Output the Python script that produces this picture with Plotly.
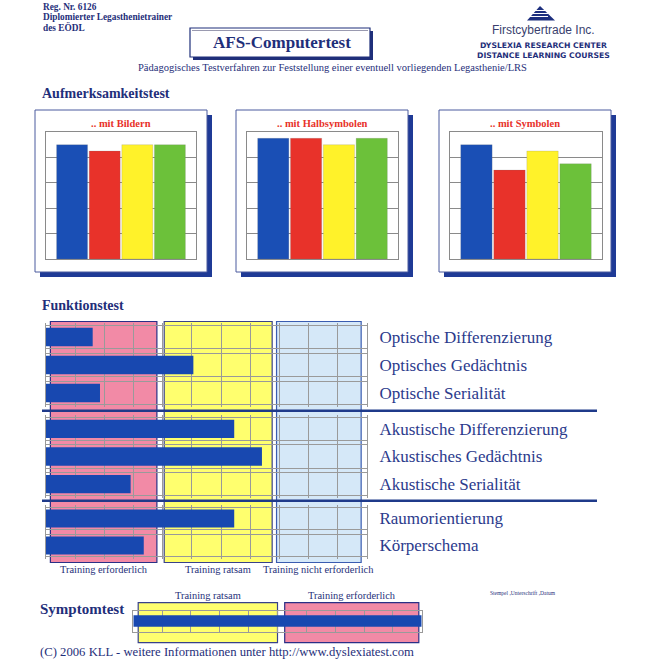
import plotly.graph_objects as go

W, H = 648, 672


def px(x):
    return x / W


def py(y):
    return 1 - y / H


# ---------------- data ----------------
AUF_TITLES = [".. mit Bildern", ".. mit Halbsymbolen", ".. mit Symbolen"]
AUF_CATS = ["blau", "rot", "gelb", "grün"]
AUF_BILDERN = [4.5, 4.25, 4.5, 4.5]
AUF_HALBSYMBOLE = [4.75, 4.75, 4.5, 4.75]
AUF_SYMBOLE = [4.5, 3.5, 4.25, 3.75]

FUNK_LABELS_1 = ["Optische Differenzierung", "Optisches Gedächtnis", "Optische Serialität"]
FUNK_VALUES_1 = [1.6, 5.05, 1.85]
FUNK_LABELS_2 = ["Akustische Differenzierung", "Akustisches Gedächtnis", "Akustische Serialität"]
FUNK_VALUES_2 = [6.45, 7.4, 2.9]
FUNK_LABELS_3 = ["Raumorientierung", "Körperschema"]
FUNK_VALUES_3 = [6.45, 3.35]

FUNK_ZONE_LABELS = ["Training erforderlich", "Training ratsam", "Training nicht erforderlich"]
FUNK_ZONE_START = [0.15, 4.05, 7.9]
FUNK_ZONE_END = [3.8, 7.75, 10.8]

SYMPTOM_LABELS = ["Symptomtest"]
SYMPTOM_VALUES = [10]
SYMPTOM_ZONE_LABELS = ["Training ratsam", "Training erforderlich"]
SYMPTOM_ZONE_START = [0.17, 5.25]
SYMPTOM_ZONE_END = [5.0, 9.9]

# ---------------- styles ----------------
NAVY = "#1f2f7a"
LABEL_BLUE = "#2b3a8c"
RED_TITLE = "#e8322a"
BAR_COLORS = ["#1a4fb5", "#e8322a", "#fff22a", "#6cc13a"]
FUNK_BAR = "#1848b0"
GRID = "#9a9a9a"
SERIF = "Liberation Serif"
SANS = "Liberation Sans"
SANS_W = "DejaVu Sans"
ZONE_FILL = {"Training erforderlich": "#f28aa6",
             "Training ratsam": "#ffff6e",
             "Training nicht erforderlich": "#d5e8f8"}
ZONE_LINE = {"Training erforderlich": "#2a2f86",
             "Training ratsam": "#39428a",
             "Training nicht erforderlich": "#3a5cb0"}

fig = go.Figure()
shapes = []
annotations = []


def ann(text, x, y, size, color=NAVY, family=SERIF, xanchor="left", xref="paper", yref="paper"):
    annotations.append(dict(text=text, x=x, y=y, xref=xref, yref=yref, showarrow=False,
                            xanchor=xanchor, yanchor="middle",
                            font=dict(size=size, color=color, family=family)))


# ---------------- header ----------------
ann("<b>Reg. Nr. 6126</b>", px(41), py(7), 9.3)
ann("<b>Diplomierter Legasthenietrainer</b>", px(41), py(17), 9.3)
ann("<b>des EÖDL</b>", px(41), py(27), 9.3)

shapes.append(dict(type="rect", xref="paper", yref="paper", layer="below",
                   x0=px(193), x1=px(373), y0=py(31), y1=py(60),
                   fillcolor=NAVY, line=dict(width=0)))
shapes.append(dict(type="rect", xref="paper", yref="paper", layer="below",
                   x0=px(190), x1=px(370), y0=py(28), y1=py(57),
                   fillcolor="white", line=dict(color=NAVY, width=1.2)))
shapes.append(dict(type="line", xref="paper", yref="paper", layer="below",
                   x0=px(192), x1=px(368), y0=py(30.5), y1=py(30.5),
                   line=dict(color="#9a9ab0", width=1)))
ann("<b>AFS-Computertest</b>", px(282), py(42.5), 17, xanchor="center")
ann("Pädagogisches Testverfahren zur Feststellung einer eventuell vorliegenden Legasthenie/LRS",
    px(332), py(68), 10.5, xanchor="center")

# logo triangle
shapes.append(dict(type="path", xref="paper", yref="paper", layer="above",
                   path=f"M {px(540)},{py(6)} L {px(555)},{py(20.5)} L {px(527)},{py(20.5)} Z",
                   fillcolor="#1d2f7e", line=dict(width=0)))
for yy in (10.5, 13.5, 16.5):
    shapes.append(dict(type="line", xref="paper", yref="paper", layer="above",
                       x0=px(526), x1=px(548), y0=py(yy), y1=py(yy),
                       line=dict(color="white", width=1)))
ann("Firstcybertrade Inc.", px(543), py(30), 12, color="#3a3f6e", family=SANS, xanchor="center")
ann("<b>DYSLEXIA RESEARCH CENTER</b>", px(543), py(46), 7.7, family=SANS_W, xanchor="center")
ann("<b>DISTANCE LEARNING COURSES</b>", px(543), py(55), 7.7, family=SANS_W, xanchor="center")

# ---------------- Aufmerksamkeitstest ----------------
ann("<b>Aufmerksamkeitstest</b>", px(40), py(94), 14)

auf_values = [AUF_BILDERN, AUF_HALBSYMBOLE, AUF_SYMBOLE]
frames = [(35, 207), (236, 408), (439, 611)]
plots = [(46, 196), (247, 398), (450, 602)]
for i, (vals, title) in enumerate(zip(auf_values, AUF_TITLES)):
    k = i + 1
    fx0, fx1 = frames[i]
    shapes.append(dict(type="rect", xref="paper", yref="paper", layer="below",
                       x0=px(fx0 + 5), x1=px(fx1 + 5), y0=py(115), y1=py(277),
                       fillcolor="#1f3a96", line=dict(width=0)))
    shapes.append(dict(type="rect", xref="paper", yref="paper", layer="below",
                       x0=px(fx0), x1=px(fx1), y0=py(110), y1=py(272),
                       fillcolor="white", line=dict(color="#4a5a9e", width=1)))
    ann(f"<b>{title}</b>", px((fx0 + fx1) / 2), py(123), 10.5, color=RED_TITLE, xanchor="center")
    fig.add_trace(go.Bar(x=AUF_CATS, y=vals, marker=dict(color=BAR_COLORS, line=dict(width=0.6, color="rgba(120,120,120,0.35)")),
                         width=0.95, xaxis=f"x{k}", yaxis=f"y{k}", showlegend=False, hoverinfo="y"))
    x0, x1 = plots[i]
    fig.layout[f"xaxis{k}"] = dict(domain=[px(x0), px(x1)], anchor=f"y{k}", range=[-0.8, 3.8],
                                   showticklabels=False, ticks="", showgrid=False, zeroline=False,
                                   showline=True, mirror=True, linecolor="#8a8a8a", linewidth=1,
                                   fixedrange=True)
    fig.layout[f"yaxis{k}"] = dict(domain=[py(259), py(132)], anchor=f"x{k}", range=[0, 5], dtick=1,
                                   showticklabels=False, ticks="", showgrid=True, gridcolor="#8a8a8a",
                                   gridwidth=1, zeroline=False, showline=True, mirror=True,
                                   linecolor="#8a8a8a", linewidth=1, fixedrange=True)

# ---------------- Funktionstest ----------------
ann("<b>Funktionstest</b>", px(40), py(306), 14)

groups = [(FUNK_LABELS_1, FUNK_VALUES_1, 323, 407),
          (FUNK_LABELS_2, FUNK_VALUES_2, 415, 498),
          (FUNK_LABELS_3, FUNK_VALUES_3, 505, 559)]
FX0, FX1 = 46, 367
for g, (labels, vals, gy0, gy1) in enumerate(groups):
    k = g + 4
    idx = list(range(len(labels)))
    fig.add_trace(go.Bar(y=idx, x=vals, orientation="h", width=0.66,
                         marker=dict(color=FUNK_BAR, line=dict(width=0)),
                         xaxis=f"x{k}", yaxis=f"y{k}", showlegend=False,
                         customdata=labels, hovertemplate="%{customdata}: %{x}<extra></extra>"))
    minor_vals = []
    for j in idx:
        minor_vals += [j - 0.42, j + 0.42]
    fig.layout[f"xaxis{k}"] = dict(domain=[px(FX0), px(FX1)], anchor=f"y{k}", range=[0, 11], dtick=1,
                                   showticklabels=False, ticks="", showgrid=True, gridcolor=GRID,
                                   gridwidth=1, zeroline=False, showline=False, fixedrange=True)
    fig.layout[f"yaxis{k}"] = dict(domain=[py(gy1), py(gy0)], anchor=f"x{k}", side="right",
                                   range=[len(labels) - 0.5, -0.5], tickmode="array",
                                   tickvals=idx, ticktext=labels, ticks="", ticklabelstandoff=8,
                                   tickfont=dict(family=SERIF, size=17, color=LABEL_BLUE),
                                   showgrid=False, zeroline=False, showline=True, mirror=True,
                                   linecolor=GRID, linewidth=1, fixedrange=True,
                                   minor=dict(tickmode="array", tickvals=minor_vals, showgrid=True,
                                              gridcolor=GRID, gridwidth=1, ticks=""))

for lab, s, e in zip(FUNK_ZONE_LABELS, FUNK_ZONE_START, FUNK_ZONE_END):
    shapes.append(dict(type="rect", xref="x4", yref="paper", layer="below",
                       x0=s, x1=e, y0=py(562.5), y1=py(321.5),
                       fillcolor=ZONE_FILL[lab], line=dict(color=ZONE_LINE[lab], width=1.2)))
    ann(lab, (s + e) / 2, py(569), 10.4, color=NAVY, xanchor="center", xref="x4")

for sy in (410.7, 500.7):
    shapes.append(dict(type="line", xref="paper", yref="paper", layer="above",
                       x0=px(42), x1=px(597), y0=py(sy), y1=py(sy),
                       line=dict(color="#1f3a8a", width=2.5)))

# ---------------- Symptomtest ----------------
ann("<b>Symptomtest</b>", px(38), py(609), 15)
fig.add_trace(go.Bar(y=list(range(len(SYMPTOM_LABELS))), x=SYMPTOM_VALUES, orientation="h", width=0.55,
                     marker=dict(color=FUNK_BAR, line=dict(width=0)),
                     xaxis="x7", yaxis="y7", showlegend=False,
                     customdata=SYMPTOM_LABELS, hovertemplate="%{customdata}: %{x}<extra></extra>"))
fig.layout["xaxis7"] = dict(domain=[px(133.3), px(421.7)], anchor="y7", range=[0, 10], dtick=1,
                            showticklabels=False, ticks="", showgrid=True, gridcolor=GRID,
                            zeroline=False, showline=True, mirror=True, linecolor=GRID, fixedrange=True)
fig.layout["yaxis7"] = dict(domain=[py(631.5), py(610.5)], anchor="x7", range=[-0.5, 0.5],
                            showticklabels=False, ticks="", showgrid=False, zeroline=False,
                            showline=True, mirror=True, linecolor=GRID, fixedrange=True)
for lab, s, e in zip(SYMPTOM_ZONE_LABELS, SYMPTOM_ZONE_START, SYMPTOM_ZONE_END):
    shapes.append(dict(type="rect", xref="x7", yref="paper", layer="below",
                       x0=s, x1=e, y0=py(642.7), y1=py(602.7),
                       fillcolor=ZONE_FILL[lab], line=dict(color=ZONE_LINE[lab], width=1.2)))
    ann(lab, (s + e) / 2, py(595), 10.4, color=NAVY, xanchor="center", xref="x7")

ann("Stempel ,Unterschrift ,Datum", px(488), py(593), 5.5)
ann("(C) 2006 KLL - weitere Informationen unter http://www.dyslexiatest.com", px(38), py(652), 12.7)

fig.update_layout(width=W, height=H, autosize=False, margin=dict(l=0, r=0, t=0, b=0),
                  paper_bgcolor="white", plot_bgcolor="rgba(0,0,0,0)",
                  shapes=shapes, annotations=annotations, showlegend=False)

fig.write_html("out.html", config={"displayModeBar": False},
               post_script="document.body.style.margin='0px';")
